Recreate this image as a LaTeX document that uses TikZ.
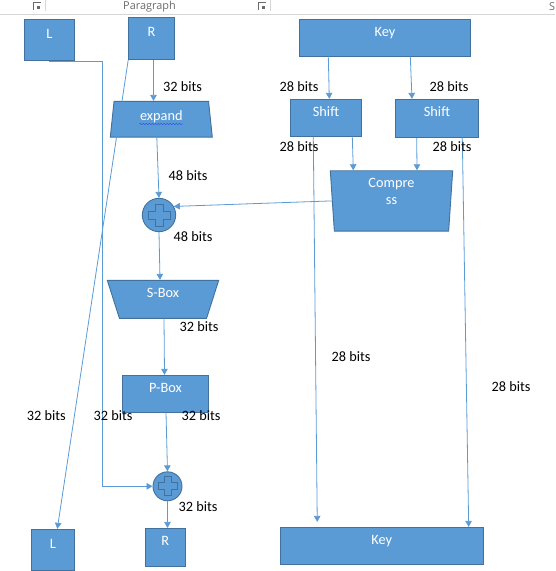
\documentclass[tikz,border=0pt]{standalone}
\usepackage{fontspec}
\setmainfont{Carlito}
\newfontfamily\ribbonfont{Open Sans}
\usetikzlibrary{shapes.geometric,decorations.pathmorphing,arrows.meta}
\definecolor{officeblue}{HTML}{5B9BD5}
\definecolor{officeedge}{HTML}{41719C}
\definecolor{ribbongray}{HTML}{D6D6D6}
\definecolor{ribbontext}{HTML}{6A6A6A}

\begin{document}
\begin{tikzpicture}[
		x=1pt, y=-1pt,
		every node/.style={font=\fontsize{14.3}{17.4}\selectfont, inner sep=0pt},
		block/.style={draw=officeedge, fill=officeblue, text=white, line width=0.9pt, text height=9pt, text depth=12pt},
		funnel/.style={block, trapezium, trapezium stretches body},
		xorgate/.style={circle, draw=officeedge, fill=officeblue, line width=0.9pt},
		plusedge/.style={draw=officeedge, line width=0.9pt},
		link/.style={draw=officeblue, line width=0.8pt, -{Triangle[length=6pt,width=6.5pt]}},
		bits/.style={text=black},
		ribbon/.style={font=\ribbonfont\fontsize{10.9}{13}\selectfont, text=ribbontext}
	]
	\useasboundingbox (0,0) rectangle (555,571);

	% ribbon strip
	\draw[ribbongray] (0,14) -- (555,14);
	\draw[ribbongray] (45,0) -- (45,11) (270,0) -- (270,11);
	\foreach \ix in {37,262} {
			\draw[ribbontext, line width=0.5pt] (\ix-3.5,9.5) -- (\ix-3.5,2.5) -- (\ix+3.5,2.5);
			\fill[ribbontext] (\ix-0.5,5.5) rectangle (\ix+3,9);
		}
	\node[ribbon] (para) at (149.5,7) {Paragraph};
	\node[ribbon, anchor=west] (styles) at (549,7) {S};

	% data half
	\node[block, minimum width=50pt, minimum height=41.4pt] (Ltop) at (49.3,40) {L};
	\node[block, minimum width=45.6pt, minimum height=42pt] (Rtop) at (151.5,38.3) {R};
	\node[funnel, trapezium left angle=76, trapezium right angle=76,
		minimum width=102pt, minimum height=35.7pt, text depth=6pt] (expand) at (161.3,119.2) {expand};
	\node[xorgate, minimum size=33.4pt] (xor1) at (159,215) {};
	\node[funnel, shape border rotate=180, trapezium left angle=60, trapezium right angle=60,
		minimum width=111.4pt, minimum height=38pt] (sbox) at (163,299.3) {S-Box};
	\node[block, minimum width=86.4pt, minimum height=37pt] (pbox) at (165.5,393.8) {P-Box};
	\node[xorgate, minimum size=29pt] (xor2) at (167.5,486.3) {};
	\node[block, minimum width=43pt, minimum height=41.4pt] (Lbot) at (52.8,550) {L};
	\node[block, minimum width=40pt, minimum height=37.7pt] (Rbot) at (165.3,547.2) {R};

	% key half
	\node[block, minimum width=171.4pt, minimum height=36.7pt] (keytop) at (385,37.7) {Key};
	\node[block, minimum width=71.4pt, minimum height=37pt] (shift1) at (326,117.8) {Shift};
	\node[block, minimum width=83.4pt, minimum height=38pt] (shift2) at (437,118.3) {Shift};
	\node[funnel, shape border rotate=180, trapezium left angle=68, trapezium right angle=68,
		minimum width=122.4pt, minimum height=60.3pt, align=center, text depth=1pt] (compress) at (391.5,200.9) {Compre\\ss};
	\node[block, minimum width=203pt, minimum height=36.7pt] (keybot) at (381.8,545.7) {Key};

	% plus signs
	\foreach \n/\a/\b in {xor1/11/4, xor2/9.5/3.5} {
			\draw[plusedge] (\n) ++(-\b,-\a) -- ++({2*\b},0) -- ++(0,{\a-\b}) -- ++({\a-\b},0)
			-- ++(0,{2*\b}) -- ++({\b-\a},0) -- ++(0,{\a-\b}) -- ++({-2*\b},0)
			-- ++(0,{\b-\a}) -- ++({\b-\a},0) -- ++(0,{-2*\b}) -- ++({\a-\b},0) -- cycle;
		}

	% spelling mark
	\draw[officeblue!60!blue, line width=0.6pt, decorate,
		decoration={snake, segment length=3pt, amplitude=0.7pt}]
	(expand.center) ++(-22,4.8) -- ++(43.4,0);

	% connectors
	\draw[link] ([xshift=2pt]Rtop.south) -- ([xshift=2pt]Rtop.south |- expand.north);
	\draw[link] ([xshift=-4.5pt]expand.south) -- (xor1.north);
	\draw[link] (compress.west) -- (xor1.30);
	\draw[link] (xor1.south) -- ([xshift=-3pt]sbox.north);
	\draw[link] ([xshift=1pt]sbox.south) -- ([xshift=-1pt]pbox.north);
	\draw[link] ([xshift=0.5pt]pbox.south) -- (xor2.north);
	\draw[link] (xor2.south) -- (xor2.south |- Rbot.north);
	\draw[link] (Ltop.south) -- ++(53.5,0) |- (xor2.west);
	\draw[link] (Rtop.south west) -- ([xshift=4.5pt]Lbot.north);

	\draw[link] ([xshift=-56.7pt]keytop.south) -- ([xshift=3.3pt]shift1.north);
	\draw[link] ([xshift=25.3pt]keytop.south) -- ([xshift=-25pt]shift2.north);
	\draw[link] ([xshift=26.3pt]shift1.south) -- ([xshift=-38.2pt]compress.north);
	\draw[link] ([xshift=-20.3pt]shift2.south) -- ([xshift=25.5pt]compress.north);
	\draw[link, shorten >=5pt] ([xshift=-12.7pt]shift1.south) -- ([xshift=-64.5pt]keybot.north);
	\draw[link] ([xshift=25.3pt]shift2.south) -- ([xshift=86.9pt]keybot.north);

	% widths
	\node[bits] (wRin) at (182.5,86.7) {32 bits};
	\node[bits] (wexp) at (188,176) {48 bits};
	\node[bits] (wxor1) at (193,236.7) {48 bits};
	\node[bits] (wsbox) at (199,326.7) {32 bits};
	\node[bits] (wL) at (46.3,416) {32 bits};
	\node[bits] (wLx) at (113,416) {32 bits};
	\node[bits] (wpbox) at (201,416) {32 bits};
	\node[bits] (wxor2) at (198,506.7) {32 bits};
	\node[bits] (wk1) at (299,86.7) {28 bits};
	\node[bits] (wk2) at (449,86.7) {28 bits};
	\node[bits] (ws1) at (299,146.7) {28 bits};
	\node[bits] (ws2) at (452,146.7) {28 bits};
	\node[bits] (ws1d) at (351,356.7) {28 bits};
	\node[bits] (ws2d) at (511,386.7) {28 bits};

\end{tikzpicture}
\end{document}
